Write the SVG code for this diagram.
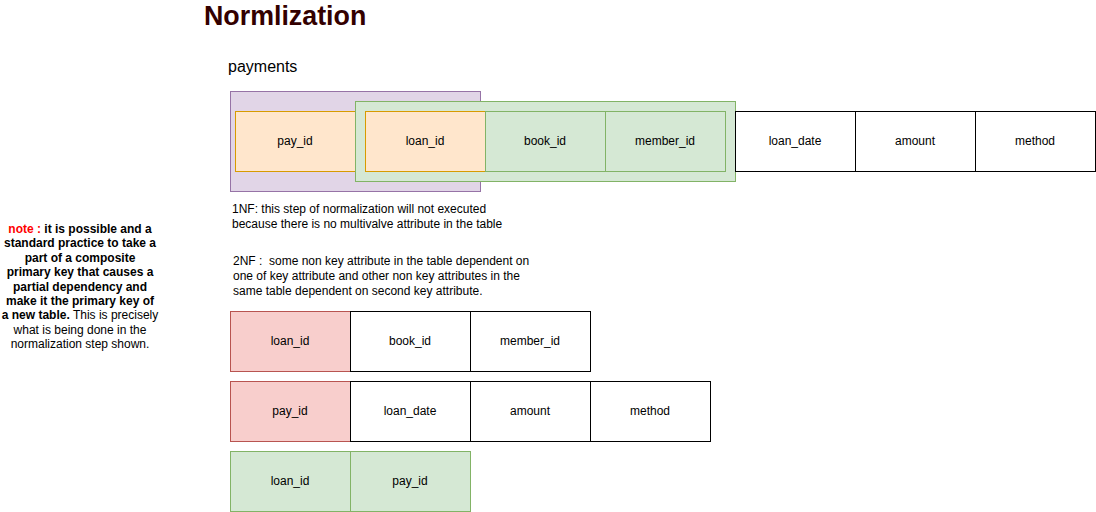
<svg xmlns="http://www.w3.org/2000/svg" width="1096" height="512" viewBox="0 0 1096 512">
<style>
text{font-family:"Liberation Sans",Arial,sans-serif;fill:#000}
.c{font-size:12px;text-anchor:middle;dominant-baseline:central}
.w{fill:#fff;stroke:#000}
.o{fill:#ffe6cc;stroke:#d79b00}
.g{fill:#d5e8d4;stroke:#82b366}
.r{fill:#f8cecc;stroke:#b85450}
.p{fill:#e1d5e7;stroke:#9673a6}
.t{font-size:12px}
.n{font-size:12px;text-anchor:middle}
.b{font-weight:bold}
</style>
<rect width="1096" height="512" fill="#fff"/>
<text x="204" y="25" style="font-size:26.8px;font-weight:bold;fill:#330000">Normlization</text>
<text x="228" y="72" style="font-size:16px">payments</text>
<g id="group-1nf">
<rect class="p" x="230.5" y="91.5" width="250" height="100"/>
<g id="pay_id"><rect class="o" x="235.5" y="111.5" width="120" height="60"/><text class="c" x="295" y="141">pay_id</text></g>
<rect class="g" x="355.5" y="101.5" width="380" height="80"/>
<g id="loan_id"><rect class="o" x="365.5" y="111.5" width="120" height="60"/><text class="c" x="425" y="141">loan_id</text></g>
<g id="book_id"><rect class="g" x="485.5" y="111.5" width="120" height="60"/><text class="c" x="545" y="141">book_id</text></g>
<g id="member_id"><rect class="g" x="605.5" y="111.5" width="120" height="60"/><text class="c" x="665" y="141">member_id</text></g>
<g id="loan_date"><rect class="w" x="735.5" y="111.5" width="120" height="60"/><text class="c" x="795" y="141">loan_date</text></g>
<g id="amount"><rect class="w" x="855.5" y="111.5" width="120" height="60"/><text class="c" x="915" y="141">amount</text></g>
<g id="method"><rect class="w" x="975.5" y="111.5" width="120" height="60"/><text class="c" x="1035" y="141">method</text></g>
</g>
<g id="text-1nf">
<text class="t" x="232" y="213">1NF: this step of normalization will not executed</text>
<text class="t" x="232" y="228">because there is no multivalve attribute in the table</text>
</g>
<g id="text-2nf">
<text class="t" x="233" y="265">2NF :&#160; some non key attribute in the table dependent on</text>
<text class="t" x="233" y="280">one of key attribute and other non key attributes in the</text>
<text class="t" x="233" y="295">same table dependent on second key attribute.</text>
</g>
<g id="table-loans">
<rect class="r" x="230.5" y="311.5" width="120" height="60"/><text class="c" x="290" y="341">loan_id</text>
<rect class="w" x="350.5" y="311.5" width="120" height="60"/><text class="c" x="410" y="341">book_id</text>
<rect class="w" x="470.5" y="311.5" width="120" height="60"/><text class="c" x="530" y="341">member_id</text>
</g>
<g id="table-payments">
<rect class="r" x="230.5" y="381.5" width="120" height="60"/><text class="c" x="290" y="411">pay_id</text>
<rect class="w" x="350.5" y="381.5" width="120" height="60"/><text class="c" x="410" y="411">loan_date</text>
<rect class="w" x="470.5" y="381.5" width="120" height="60"/><text class="c" x="530" y="411">amount</text>
<rect class="w" x="590.5" y="381.5" width="120" height="60"/><text class="c" x="650" y="411">method</text>
</g>
<g id="table-link">
<rect class="g" x="230.5" y="451.5" width="120" height="60"/><text class="c" x="290" y="481">loan_id</text>
<rect class="g" x="350.5" y="451.5" width="120" height="60"/><text class="c" x="410" y="481">pay_id</text>
</g>
<g id="note">
<text class="n" x="80" y="233"><tspan class="b" style="fill:#ff0000">note : </tspan><tspan class="b">it is possible and a</tspan></text>
<text class="n b" x="80" y="247.4">standard practice to take a</text>
<text class="n b" x="80" y="261.8">part of a composite</text>
<text class="n b" x="80" y="276.2">primary key that causes a</text>
<text class="n b" x="80" y="290.6">partial dependency and</text>
<text class="n b" x="80" y="305">make it the primary key of</text>
<text class="n" x="80" y="319.4"><tspan class="b">a new table.</tspan> This is precisely</text>
<text class="n" x="80" y="333.8">what is being done in the</text>
<text class="n" x="80" y="348.2">normalization step shown.</text>
</g>
<g id="connectors"></g>
</svg>
